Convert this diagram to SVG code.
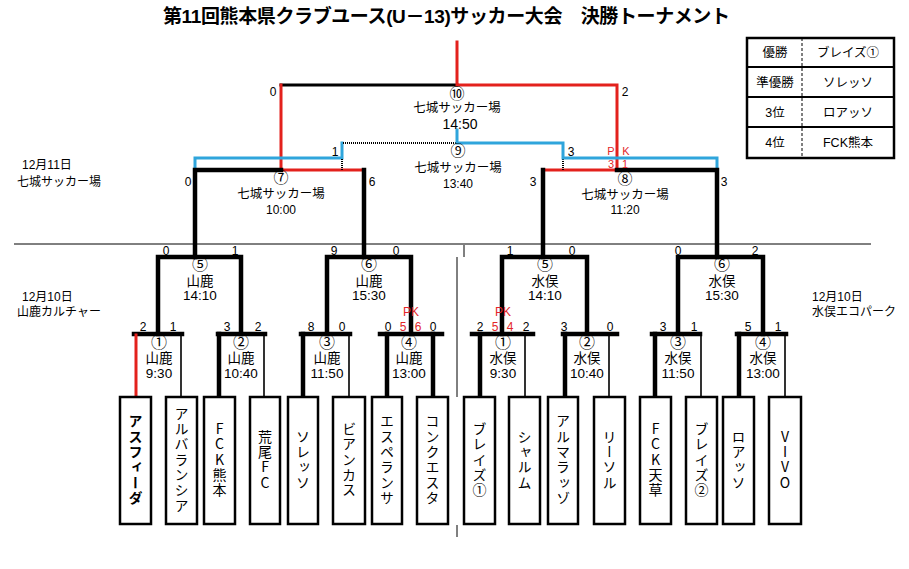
<svg xmlns="http://www.w3.org/2000/svg" width="909" height="569" viewBox="0 0 909 569">
<style>
text{font-family:"Liberation Sans","Noto Sans CJK JP",sans-serif;fill:#000}
.c{text-anchor:middle}
.ttl{font-size:19px;font-weight:bold}
.sc{font-size:12px}
.m{font-size:12.5px}
.cm{font-size:15px}
.cr{font-size:16px}
.mt{font-size:12px}
.r{font-size:13.5px}
.d{font-size:12px}
.pk{fill:#e3262a}
.pks{font-size:11px}
.lg{font-size:12.5px;text-anchor:middle}
.v{font-family:"Noto Sans CJK JP",sans-serif;font-size:14px;writing-mode:vertical-rl;text-orientation:upright;text-anchor:middle;letter-spacing:1.3px}
.box{fill:#fff;stroke:#000;stroke-width:2.5}
.k{fill:none;stroke:#000;stroke-width:4.5;stroke-linecap:square;stroke-linejoin:miter}
.k3{fill:none;stroke:#000;stroke-width:3;stroke-linecap:square}
.n{fill:none;stroke:#000;stroke-width:1.6}
.red{fill:none;stroke:#e3211c;stroke-width:3;stroke-linecap:square;stroke-linejoin:miter}
.blue{fill:none;stroke:#2fa5dc;stroke-width:3;stroke-linecap:square;stroke-linejoin:miter}
.dot{fill:none;stroke:#000;stroke-width:2;stroke-dasharray:1 1}
.sep{fill:none;stroke:#000;stroke-width:1}
</style>

<g id="title">
<text class="ttl" x="163" y="23" textLength="567" lengthAdjust="spacing">第11回熊本県クラブユース(U－13)サッカー大会　決勝トーナメント</text>
</g>

<g id="legend">
<rect x="747" y="38" width="147" height="120" fill="#fff" stroke="#000" stroke-width="2.5"/>
<path d="M747,67H894M747,97H894M747,127H894" stroke="#000" stroke-width="2"/>
<path d="M802,38V158" stroke="#000" stroke-width="1" stroke-dasharray="3 2"/>
<text class="lg" x="775" y="57">優勝</text><text class="lg" x="848" y="57">ブレイズ①</text>
<text class="lg" x="775" y="86.5">準優勝</text><text class="lg" x="848" y="86.5">ソレッソ</text>
<text class="lg" x="775" y="116.5">3位</text><text class="lg" x="848" y="116.5">ロアッソ</text>
<text class="lg" x="775" y="147">4位</text><text class="lg" x="848" y="147">FCK熊本</text>
</g>

<g id="dates">
<text class="d" x="22" y="169">12月11日</text>
<text class="d" x="17" y="186" font-size="11.5">七城サッカー場</text>
<text class="d" x="22" y="301">12月10日</text>
<text class="d" x="17" y="316" font-size="11.5">山鹿カルチャー</text>
<text class="d" x="812" y="301">12月10日</text>
<text class="d" x="812" y="316" font-size="11.5">水俣エコパーク</text>
</g>

<g id="connectors">
<path class="sep" d="M14,244H871M464,245V257M457,257V397M457,525V537"/>
<path class="k3" d="M281,85H457"/>
<path class="red" d="M457,42V85H617V170H543"/>
<path class="red" d="M281,85V170H364"/>
<path class="blue" d="M195,170V158H342V143"/>
<path class="dot" d="M343,143H456M342,159V170M563,159V170"/>
<path class="blue" d="M457,130V143H563V158H717V170"/>
<path class="k" d="M195,257V170H281"/>
<path class="k" d="M364,170V257"/>
<path class="k" d="M543,170V257"/>
<path class="k" d="M617,170H717V257"/>
<path class="k" d="M158,334V257H241V334"/>
<path class="k" d="M327,334V257H411V334"/>
<path class="k" d="M502,334V257H587V334"/>
<path class="k" d="M678,334V257H763V334"/>
<path class="k" d="M134,334H182M218,334H265M301,334H350M380,334H442"/>
<path class="red" d="M136,335V397"/>
<path class="n" d="M181,334V397M264,334V397M349,334V397"/>
<path class="k" d="M219,334V397M303,334V397M387,334V397M433,334V397"/>
<path class="k" d="M472,334H533M563,334H617M652,334H700M737,334H786"/>
<path class="k" d="M480,334V397M565,334V397M655,334V397M739,334V397"/>
<path class="n" d="M525,334V397M609,334V397M701,334V397M785,334V397"/>
</g>

<g id="m10">
<text class="cm c" x="457" y="99">⑩</text>
<text class="m c" x="457" y="112">七城サッカー場</text>
<text class="c" x="460" y="129" font-size="14px">14:50</text>
<text class="sc c" x="273" y="96">0</text>
<text class="sc c" x="625" y="96">2</text>
</g>
<g id="m9">
<text class="cm c" x="458" y="156">⑨</text>
<text class="m c" x="458" y="172">七城サッカー場</text>
<text class="mt c" x="458" y="188">13:40</text>
<text class="sc c" x="335" y="156">1</text>
<text class="sc c" x="571" y="156">3</text>
</g>
<g id="m7">
<text class="cm c" x="281" y="183">⑦</text>
<text class="m c" x="281" y="198">七城サッカー場</text>
<text class="mt c" x="281" y="214">10:00</text>
<text class="sc c" x="188" y="186">0</text>
<text class="sc c" x="372" y="186">6</text>
</g>
<g id="m8">
<text class="cm c" x="625" y="184">⑧</text>
<text class="m c" x="625" y="199">七城サッカー場</text>
<text class="mt c" x="625" y="214">11:20</text>
<text class="sc c" x="533" y="186">3</text>
<text class="sc c" x="724" y="186">3</text>
<text class="pks c pk" x="611" y="155">P</text>
<text class="pks c pk" x="626" y="155">K</text>
<text class="pks c pk" x="611" y="168">3</text>
<text class="pks c pk" x="625" y="168">1</text>
</g>

<g id="y5">
<text class="cr c" x="200" y="270">⑤</text>
<text class="r c" x="200" y="286">山鹿</text>
<text class="r c" x="200" y="300">14:10</text>
<text class="sc c" x="166" y="255">0</text>
<text class="sc c" x="235" y="255">1</text>
</g>
<g id="y6">
<text class="cr c" x="369" y="270">⑥</text>
<text class="r c" x="369" y="286">山鹿</text>
<text class="r c" x="369" y="300">15:30</text>
<text class="sc c" x="334" y="255">9</text>
<text class="sc c" x="396" y="255">0</text>
<text class="sc c pk" x="411" y="316">PK</text>
</g>
<g id="y1">
<text class="cr c" x="159" y="348">①</text>
<text class="r c" x="159" y="363">山鹿</text>
<text class="r c" x="159" y="378">9:30</text>
<text class="sc c" x="143" y="331">2</text>
<text class="sc c" x="173" y="331">1</text>
</g>
<g id="y2">
<text class="cr c" x="241" y="348">②</text>
<text class="r c" x="241" y="363">山鹿</text>
<text class="r c" x="241" y="378">10:40</text>
<text class="sc c" x="227" y="331">3</text>
<text class="sc c" x="258" y="331">2</text>
</g>
<g id="y3">
<text class="cr c" x="327" y="348">③</text>
<text class="r c" x="327" y="363">山鹿</text>
<text class="r c" x="327" y="378">11:50</text>
<text class="sc c" x="311" y="331">8</text>
<text class="sc c" x="342" y="331">0</text>
</g>
<g id="y4">
<text class="cr c" x="409" y="348">④</text>
<text class="r c" x="409" y="363">山鹿</text>
<text class="r c" x="409" y="378">13:00</text>
<text class="sc c" x="388" y="331">0</text>
<text class="sc c pk" x="403" y="331">5</text>
<text class="sc c pk" x="418" y="331">6</text>
<text class="sc c" x="433" y="331">0</text>
</g>

<g id="w5">
<text class="cr c" x="545" y="270">⑤</text>
<text class="r c" x="545" y="286">水俣</text>
<text class="r c" x="545" y="300">14:10</text>
<text class="sc c" x="510" y="255">1</text>
<text class="sc c" x="572" y="255">0</text>
</g>
<g id="w6">
<text class="cr c" x="722" y="270">⑥</text>
<text class="r c" x="722" y="286">水俣</text>
<text class="r c" x="722" y="300">15:30</text>
<text class="sc c" x="678" y="255">0</text>
<text class="sc c" x="755" y="255">2</text>
</g>
<g id="w1">
<text class="cr c" x="503" y="348">①</text>
<text class="r c" x="503" y="363">水俣</text>
<text class="r c" x="503" y="378">9:30</text>
<text class="sc c pk" x="503" y="316">PK</text>
<text class="sc c" x="480" y="331">2</text>
<text class="sc c pk" x="495" y="331">5</text>
<text class="sc c pk" x="510" y="331">4</text>
<text class="sc c" x="526" y="331">2</text>
</g>
<g id="w2">
<text class="cr c" x="587" y="348">②</text>
<text class="r c" x="587" y="363">水俣</text>
<text class="r c" x="587" y="378">10:40</text>
<text class="sc c" x="564" y="331">3</text>
<text class="sc c" x="610" y="331">0</text>
</g>
<g id="w3">
<text class="cr c" x="678" y="348">③</text>
<text class="r c" x="678" y="363">水俣</text>
<text class="r c" x="678" y="378">11:50</text>
<text class="sc c" x="663" y="331">3</text>
<text class="sc c" x="694" y="331">1</text>
</g>
<g id="w4">
<text class="cr c" x="763" y="348">④</text>
<text class="r c" x="763" y="363">水俣</text>
<text class="r c" x="763" y="378">13:00</text>
<text class="sc c" x="748" y="331">5</text>
<text class="sc c" x="778" y="331">1</text>
</g>

<g id="team-asfida"><rect class="box" x="120" y="397" width="31" height="127"/><text class="v" x="135.5" y="460" font-weight="bold">アスフィーダ</text></g>
<g id="team-alvalansia"><rect class="box" x="166" y="397" width="31" height="127"/><text class="v" x="181.5" y="460">アルバランシア</text></g>
<g id="team-fck-kumamoto"><rect class="box" x="204" y="397" width="31" height="127"/><text class="v" x="219.5" y="460">FCK熊本</text></g>
<g id="team-arao"><rect class="box" x="250" y="397" width="30" height="127"/><text class="v" x="265" y="460">荒尾FC</text></g>
<g id="team-solesso"><rect class="box" x="288" y="397" width="30" height="127"/><text class="v" x="303" y="460">ソレッソ</text></g>
<g id="team-biancas"><rect class="box" x="333" y="397" width="32" height="127"/><text class="v" x="349" y="460">ビアンカス</text></g>
<g id="team-esperanza"><rect class="box" x="372" y="397" width="30" height="127"/><text class="v" x="387" y="460">エスペランサ</text></g>
<g id="team-conquesta"><rect class="box" x="417" y="397" width="31" height="127"/><text class="v" x="432.5" y="460">コンクエスタ</text></g>

<g id="team-blaze1"><rect class="box" x="464" y="397" width="31" height="127"/><text class="v" x="479.5" y="460">ブレイズ①</text></g>
<g id="team-charme"><rect class="box" x="509" y="397" width="31" height="127"/><text class="v" x="524.5" y="460">シャルム</text></g>
<g id="team-almarazzo"><rect class="box" x="548" y="397" width="30" height="127"/><text class="v" x="563" y="460">アルマラッゾ</text></g>
<g id="team-risol"><rect class="box" x="594" y="397" width="31" height="127"/><text class="v" x="609.5" y="460">リーソル</text></g>
<g id="team-fck-amakusa"><rect class="box" x="640" y="397" width="31" height="127"/><text class="v" x="655.5" y="460">FCK天草</text></g>
<g id="team-blaze2"><rect class="box" x="686" y="397" width="31" height="127"/><text class="v" x="701.5" y="460">ブレイズ②</text></g>
<g id="team-roasso"><rect class="box" x="723" y="397" width="31" height="127"/><text class="v" x="738.5" y="460">ロアッソ</text></g>
<g id="team-vivo"><rect class="box" x="769" y="397" width="32" height="127"/><text class="v" x="785" y="460">VIVO</text></g>
</svg>
